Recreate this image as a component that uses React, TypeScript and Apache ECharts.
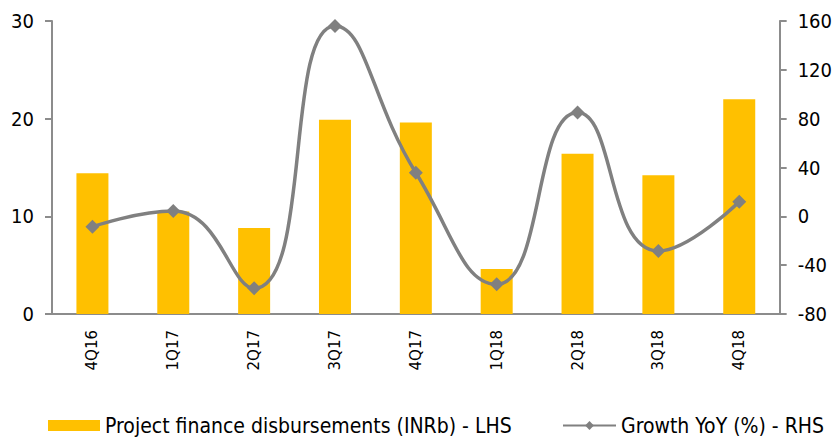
import React, { useEffect, useRef } from "react";
import * as echarts from "echarts";

const categories = ["4Q16", "1Q17", "2Q17", "3Q17", "4Q17", "1Q18", "2Q18", "3Q18", "4Q18"];
const disbursements = [14.4, 10.5, 8.8, 19.9, 19.6, 4.6, 16.4, 14.2, 22.0];
const growth = [-8.5, 4.3, -59, 156, 35.7, -55.7, 85, -28.4, 12];
const leftTicks = { min: 0, max: 30, interval: 10 };
const rightTicks = { min: -80, max: 160, interval: 40 };

const BAR_NAME = "Project finance disbursements (INRb) - LHS";
const LINE_NAME = "Growth YoY (%) - RHS";
const FONT = "DejaVu Sans Condensed";

export default function App() {
  const ref = useRef<HTMLDivElement>(null);
  useEffect(() => {
    if (!ref.current) return;
    const chart = echarts.init(ref.current, undefined, { renderer: "svg" });
    const axisLine = { show: true, lineStyle: { color: "#8c8c8c", width: 2 } };
    const axisTick = { show: true, length: 7, lineStyle: { color: "#8c8c8c", width: 2 } };
    const legendText = { fontFamily: FONT, fontSize: 21, color: "#000" };
    chart.setOption({
      animation: false,
      grid: { left: 52, right: 55, top: 21, bottom: 125, containLabel: false },
      legend: [
        {
          top: 415,
          left: 48,
          padding: 0,
          itemWidth: 52,
          itemHeight: 11,
          textStyle: legendText,
          data: [{ name: BAR_NAME, icon: "rect" }],
        },
        {
          top: 415,
          left: 562,
          padding: 0,
          itemWidth: 53,
          itemHeight: 11,
          textStyle: legendText,
          data: [{ name: LINE_NAME }],
        },
      ],
      xAxis: {
        type: "category",
        data: categories,
        axisLine,
        axisTick: { show: false },
        axisLabel: { rotate: 90, fontFamily: "DejaVu Sans", fontSize: 15, color: "#000", margin: 16 },
      },
      yAxis: [
        {
          type: "value",
          ...leftTicks,
          axisLine,
          axisTick,
          splitLine: { show: false },
          axisLabel: { fontFamily: FONT, fontSize: 20, color: "#000", margin: 18 },
        },
        {
          type: "value",
          ...rightTicks,
          position: "right",
          axisLine,
          axisTick,
          splitLine: { show: false },
          axisLabel: { fontFamily: FONT, fontSize: 20, color: "#000", margin: 18 },
        },
      ],
      series: [
        {
          name: BAR_NAME,
          type: "bar",
          data: disbursements,
          barWidth: 32,
          itemStyle: { color: "#FFC000" },
          yAxisIndex: 0,
        },
        {
          name: LINE_NAME,
          type: "line",
          data: growth,
          yAxisIndex: 1,
          smooth: 0.5,
          symbol: "diamond",
          symbolSize: 14,
          lineStyle: { color: "#808080", width: 3.5 },
          itemStyle: { color: "#808080" },
        },
      ],
    });
    return () => chart.dispose();
  }, []);
  return <div ref={ref} style={{ width: 835, height: 439, position: "absolute", left: 0, top: 0 }} />;
}
